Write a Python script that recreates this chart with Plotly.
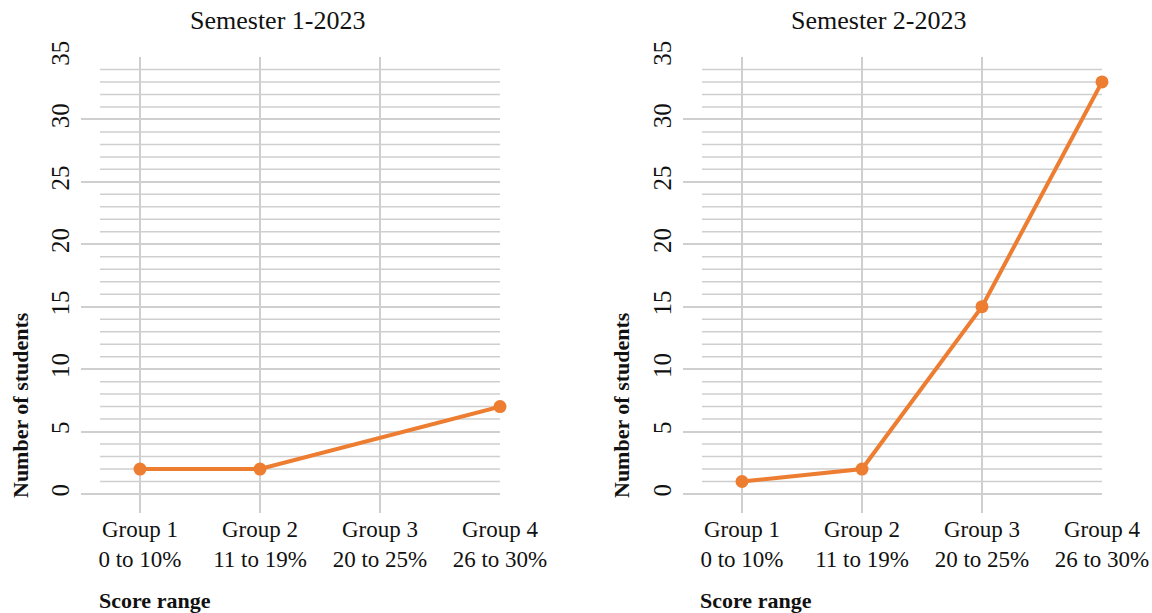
import plotly.graph_objects as go

# Data
groups = ["Group 1<br>0 to 10%", "Group 2<br>11 to 19%", "Group 3<br>20 to 25%", "Group 4<br>26 to 30%"]
sem1_students = [2, 2, None, 7]
sem2_students = [1, 2, 15, 33]
panel_titles = ["Semester 1-2023", "Semester 2-2023"]
y_major = [0, 5, 10, 15, 20, 25, 30, 35]
y_minor = [v for v in range(1, 35) if v % 5 != 0]

ORANGE = "#ED7D31"
GRID = "#cfcfcf"
SERIF = "Liberation Serif"
W, H = 1152, 613

fig = go.Figure()

series = [sem1_students, sem2_students]
x_domains = [[81 / W, 500 / W], [683 / W, 1102 / W]]
y_domain = [1 - 513 / H, 1 - 57 / H]
x_range = [-59 / 120, 3]
y_range = [-19 / 12.486, 35]

for i, vals in enumerate(series):
    xa = "x" if i == 0 else "x2"
    ya = "y" if i == 0 else "y2"
    fig.add_trace(go.Scatter(
        x=[0, 1, 2, 3], y=vals, xaxis=xa, yaxis=ya,
        mode="lines+markers", connectgaps=True, cliponaxis=False,
        line=dict(color=ORANGE, width=4),
        marker=dict(color=ORANGE, size=13),
        showlegend=False,
    ))
    # minor horizontal gridlines
    for v in y_minor:
        fig.add_shape(type="line", xref=xa, yref=ya, x0=-1 / 3, x1=3, y0=v, y1=v,
                      line=dict(color=GRID, width=1.5), layer="below")

axis_common_x = dict(
    range=x_range, tickmode="array", tickvals=[0, 1, 2, 3], ticktext=groups,
    showgrid=True, gridcolor=GRID, gridwidth=1.5, zeroline=False, showline=False,
    ticks="", automargin=False, tickfont=dict(family=SERIF, size=23, color="#111"),
)
axis_common_y = dict(
    range=y_range, tickmode="array", tickvals=y_major,
    showgrid=True, gridcolor=GRID, gridwidth=1.5, zeroline=False, showline=False,
    ticks="", tickangle=-90, automargin=False, ticklabelstandoff=6,
    tickfont=dict(family=SERIF, size=25, color="#111"),
    domain=y_domain,
)

fig.update_layout(
    width=W, height=H, margin=dict(l=0, r=0, t=0, b=0, autoexpand=False),
    plot_bgcolor="white", paper_bgcolor="white",
    font=dict(family=SERIF, color="#111"),
    xaxis=dict(domain=x_domains[0], anchor="y", **axis_common_x),
    yaxis=dict(anchor="x", **axis_common_y),
    xaxis2=dict(domain=x_domains[1], anchor="y2", **axis_common_x),
    yaxis2=dict(anchor="x2", **axis_common_y),
)

# Panel titles and axis titles
title_x = [277, 878]
ytitle_x = [20, 621]
xtitle_x = [97, 698]
for i in range(2):
    fig.add_annotation(text=panel_titles[i], x=title_x[i] / W, y=1 - 20 / H, xref="paper", yref="paper",
                       showarrow=False, xanchor="center", yanchor="middle",
                       font=dict(family=SERIF, size=26, color="#111"))
    fig.add_annotation(text="<b>Number of students</b>", x=ytitle_x[i] / W, y=1 - 405 / H,
                       xref="paper", yref="paper", showarrow=False, textangle=-90,
                       xanchor="center", yanchor="middle",
                       font=dict(family=SERIF, size=22, color="#111"))
    fig.add_annotation(text="<b>Score range</b>", x=xtitle_x[i] / W, y=1 - 600 / H,
                       xref="paper", yref="paper", showarrow=False,
                       xanchor="left", yanchor="middle",
                       font=dict(family=SERIF, size=22, color="#111"))

fig.write_html("out.html")
